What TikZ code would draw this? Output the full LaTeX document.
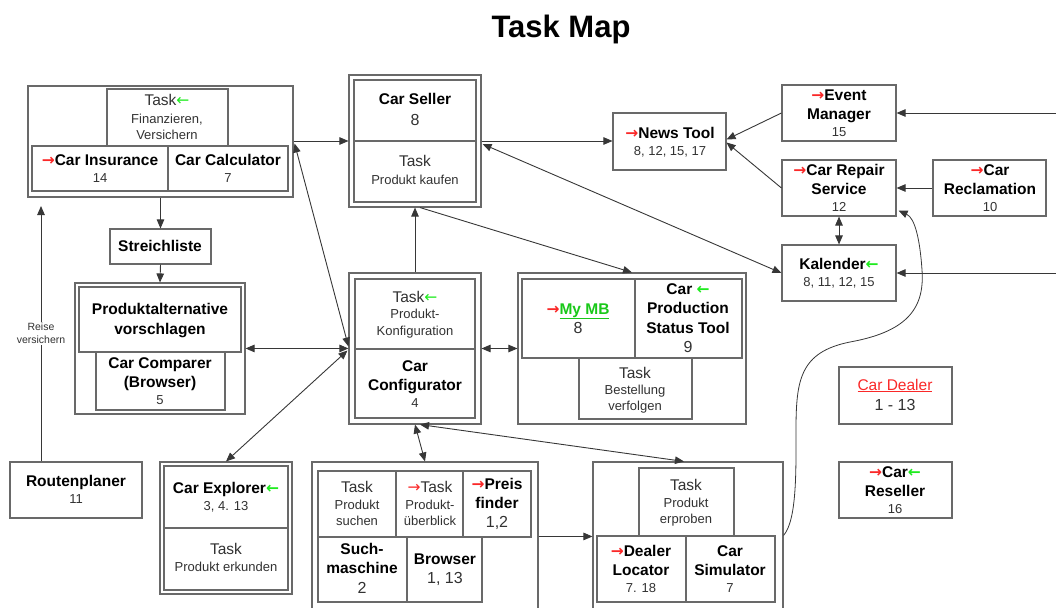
\documentclass[tikz,border=0pt]{standalone}
\usepackage{fontspec}
\setmainfont{Liberation Sans}
\newfontfamily\arrfont{DejaVu Sans}
\usetikzlibrary{arrows.meta,fit,calc}
\definecolor{mygreen}{RGB}{30,235,30}
\definecolor{myred}{RGB}{250,40,40}
\definecolor{boxgray}{RGB}{105,105,105}
\definecolor{txtgray}{RGB}{50,50,50}
\definecolor{lngray}{RGB}{55,55,55}
\newcommand\RedArr{{\arrfont\color{myred}→}}
\newcommand\GrnArr{{\arrfont\color{mygreen}←}}
\tikzset{
 bx/.style={draw=boxgray, line width=1.1pt, inner sep=0pt, fill=white},
 tb/.style={font=\fontsize{15.5}{18}\selectfont\bfseries, text=black, inner sep=0pt, anchor=base, yshift=-5pt},
 tk/.style={font=\fontsize{15.5}{18}\selectfont, text=txtgray, inner sep=0pt, anchor=base, yshift=-5pt},
 ts/.style={font=\fontsize{13}{15}\selectfont, text=txtgray, inner sep=0pt, anchor=base, yshift=-4.3pt},
 tn/.style={font=\fontsize{13}{15}\selectfont, text=txtgray, inner sep=0pt, anchor=base, yshift=-4.3pt},
 tbig/.style={font=\fontsize{16}{18}\selectfont, text=txtgray, inner sep=0pt, anchor=base, yshift=-5.3pt},
 arr/.style={draw=lngray, line width=0.9pt, -{Triangle[length=9pt,width=7.5pt]}},
 darr/.style={draw=lngray, line width=0.9pt, {Triangle[length=9pt,width=7.5pt]}-{Triangle[length=9pt,width=7.5pt]}},
}
\begin{document}
\begin{tikzpicture}[x=1pt,y=-1pt]
\useasboundingbox (0,0) rectangle (1056,607);
\clip (0,0) rectangle (1056,607);
\node[font=\fontsize{31}{36}\selectfont\bfseries, anchor=base, inner sep=0pt] (title) at (561,38) {Task Map};

% Insurance group
\node[bx, fit={(28,86)(293,197)}] (ins) {};
\node[bx, fit={(107,89)(228,146)}] (insT) {};
\node[bx, fit={(32,146)(168,191)}] (insA) {};
\node[bx, fit={(168,146)(288,191)}] (insC) {};
\node[tk] (insTt) at (167,101) {Task\GrnArr};
\node[ts] (insT1) at (167,119) {Finanzieren,};
\node[ts] (insT2) at (167,135) {Versichern};
\node[tb] (insAt) at (100,160) {\RedArr Car Insurance};
\node[tn] (insAn) at (100,178) {14};
\node[tb] (insCt) at (228,160) {Car Calculator};
\node[tn] (insCn) at (228,178) {7};

% Streichliste
\node[bx, fit={(110,229)(211,264)}] (streich) {};
\node[tb] (streicht) at (160,246) {Streichliste};

% Produktalternative
\node[bx, fit={(75,283)(245,414)}] (pa) {};
\node[bx, fit={(79,287)(241,352)}] (paA) {};
\node[bx, fit={(96,352)(225,410)}] (paC) {};
\node[tb] (paA1) at (160,309) {Produktalternative};
\node[tb] (paA2) at (160,329) {vorschlagen};
\node[tb] (paC1) at (160,363) {Car Comparer};
\node[tb] (paC2) at (160,382) {(Browser)};
\node[tn] (paC3) at (160,400) {5};

% Routenplaner
\node[bx, fit={(10,462)(142,518)}] (route) {};
\node[tb] (route1) at (76,481) {Routenplaner};
\node[tn] (route2) at (76,499) {11};

% Car Explorer
\node[bx, fit={(160,462)(292,594)}] (exO) {};
\node[bx, fit={(164,466)(288,528)}] (exA) {};
\node[bx, fit={(164,528)(288,590)}] (exB) {};
\node[tb] (exA1) at (226,488) {Car Explorer\GrnArr};
\node[tn] (exA2) at (226,506) {3, 4. 13};
\node[tk] (exB1) at (226,549) {Task};
\node[ts] (exB2) at (226,567) {Produkt erkunden};

% Car Seller
\node[bx, fit={(349,75)(481,207)}] (seO) {};
\node[bx, fit={(354,80)(476,141)}] (seA) {};
\node[bx, fit={(354,141)(476,202)}] (seB) {};
\node[tb] (seA1) at (415,100) {Car Seller};
\node[tbig] (seA2) at (415,120) {8};
\node[tk] (seB1) at (415,161) {Task};
\node[ts] (seB2) at (415,180) {Produkt kaufen};

% Car Configurator
\node[bx, fit={(349,273)(481,424)}] (cfO) {};
\node[bx, fit={(355,279)(475,349)}] (cfA) {};
\node[bx, fit={(355,349)(475,418)}] (cfB) {};
\node[tk] (cfA1) at (415,297) {Task\GrnArr};
\node[ts] (cfA2) at (415,314) {Produkt-};
\node[ts] (cfA3) at (415,331) {Konfiguration};
\node[tb] (cfB1) at (415,366) {Car};
\node[tb] (cfB2) at (415,385) {Configurator};
\node[tn] (cfB3) at (415,403) {4};

% My MB group
\node[bx, fit={(518,273)(746,424)}] (mbO) {};
\node[bx, fit={(522,279)(635,358)}] (mbA) {};
\node[bx, fit={(635,279)(742,358)}] (mbB) {};
\node[bx, fit={(579,358)(692,419)}] (mbT) {};
\node[tb] (mbA1) at (578,309) {\RedArr{\color{mygreen!85!black}\underline{My MB}}};
\node[tbig] (mbA2) at (578,328) {8};
\node[tb] (mbB1) at (688,289) {Car \GrnArr};
\node[tb] (mbB2) at (688,308) {Production};
\node[tb] (mbB3) at (688,328) {Status Tool};
\node[tbig] (mbB4) at (688,347) {9};
\node[tk] (mbT1) at (635,373) {Task};
\node[ts] (mbT2) at (635,390) {Bestellung};
\node[ts] (mbT3) at (635,406) {verfolgen};

% News Tool
\node[bx, fit={(613,113)(726,170)}] (news) {};
\node[tb] (news1) at (670,133) {\RedArr News Tool};
\node[tn] (news2) at (670,151) {8, 12, 15, 17};

% Event Manager
\node[bx, fit={(782,85)(896,141)}] (event) {};
\node[tb] (event1) at (839,95) {\RedArr Event};
\node[tb] (event2) at (839,114) {Manager};
\node[tn] (event3) at (839,132) {15};

% Car Repair Service
\node[bx, fit={(782,160)(896,216)}] (repair) {};
\node[tb] (repair1) at (839,170) {\RedArr Car Repair};
\node[tb] (repair2) at (839,189) {Service};
\node[tn] (repair3) at (839,207) {12};

% Car Reclamation
\node[bx, fit={(933,160)(1046,216)}] (reclam) {};
\node[tb] (reclam1) at (990,170) {\RedArr Car};
\node[tb] (reclam2) at (990,189) {Reclamation};
\node[tn] (reclam3) at (990,207) {10};

% Kalender
\node[bx, fit={(782,245)(896,301)}] (kal) {};
\node[tb] (kal1) at (839,264) {Kalender\GrnArr};
\node[tn] (kal2) at (839,282) {8, 11, 12, 15};

% Car Dealer
\node[bx, fit={(839,367)(952,424)}] (dealer) {};
\node[tk, text=myred] (dealer1) at (895,385) {\underline{Car Dealer}};
\node[tbig] (dealer2) at (895,405) {1 - 13};

% Car Reseller
\node[bx, fit={(839,462)(952,518)}] (reseller) {};
\node[tb] (reseller1) at (895,472) {\RedArr Car\GrnArr};
\node[tb] (reseller2) at (895,491) {Reseller};
\node[tn] (reseller3) at (895,509) {16};

% Search group
\node[bx, fit={(312,462)(538,620)}] (smO) {};
\node[bx, fit={(318,471)(396,537)}] (sm1) {};
\node[bx, fit={(396,471)(463,537)}] (sm2) {};
\node[bx, fit={(463,471)(531,537)}] (sm3) {};
\node[bx, fit={(318,537)(407,602)}] (sm4) {};
\node[bx, fit={(407,537)(482,602)}] (sm5) {};
\node[tk] (sm1a) at (357,487) {Task};
\node[ts] (sm1b) at (357,505) {Produkt};
\node[ts] (sm1c) at (357,521) {suchen};
\node[tk] (sm2a) at (430,487) {\RedArr Task};
\node[ts] (sm2b) at (430,505) {Produkt-};
\node[ts] (sm2c) at (430,521) {überblick};
\node[tb] (sm3a) at (497,484) {\RedArr Preis};
\node[tb] (sm3b) at (497,503) {finder};
\node[tbig] (sm3c) at (497,522) {1,2};
\node[tb] (sm4a) at (362,549) {Such-};
\node[tb] (sm4b) at (362,568) {maschine};
\node[tbig] (sm4c) at (362,588) {2};
\node[tb] (sm5a) at (445,559) {Browser};
\node[tbig] (sm5b) at (445,578) {1, 13};

% Try group
\node[bx, fit={(593,462)(783,620)}] (trO) {};
\node[bx, fit={(639,468)(734,536)}] (trT) {};
\node[bx, fit={(597,536)(686,602)}] (trA) {};
\node[bx, fit={(686,536)(775,602)}] (trB) {};
\node[tk] (trT1) at (686,485) {Task};
\node[ts] (trT2) at (686,503) {Produkt};
\node[ts] (trT3) at (686,519) {erproben};
\node[tb] (trA1) at (641,551) {\RedArr Dealer};
\node[tb] (trA2) at (641,570) {Locator};
\node[tn] (trA3) at (641,588) {7. 18};
\node[tb] (trB1) at (730,551) {Car};
\node[tb] (trB2) at (730,570) {Simulator};
\node[tn] (trB3) at (730,588) {7};

% Connectors
\draw[arr] (ins.south) -- (streich.north);
\draw[arr] (streich.south) -- (pa.north);
\coordinate (rvTop) at (41,206);
\draw[arr] (route.north -| rvTop) -- (rvTop)
  node[midway, fill=white, inner sep=1pt, align=center, font=\fontsize{10.5}{13}\selectfont, text=txtgray] (rvlbl) {Reise\\versichern};
\draw[darr] (pa.east |- cfB.north) -- (cfO.west |- cfB.north);
\draw[darr] ($(ins.east)+(1,2)$) -- ($(cfO.west)+(0,-2)$);
\draw[arr] (ins.east |- seO.west) -- (seO.west);
\draw[arr] (cfO.north) -- (seO.south);
\draw[arr] ($(seO.south)+(5,0)$) -- (mbO.north);
\draw[arr] (seO.east) -- (news.west |- seO.east);
\draw[darr] ($(seO.east)+(1,3)$) -- (kal.west);
\draw[arr] (event.west) -- ($(news.east)+(0,-2)$);
\draw[arr] (repair.west) -- ($(news.east)+(0,1)$);
\draw[arr] (reclam.west) -- (repair.east);
\draw[darr] (repair.south) -- (kal.north);
\coordinate (rm1) at (1056,113);
\draw[arr] (rm1) -- (event.east);
\coordinate (rm2) at (1056,273);
\draw[arr] (rm2) -- (kal.east);
\draw[darr] (cfO.east) -- (mbO.west);
\draw[darr] ($(cfO.west)+(-1,2)$) -- (exO.north);
\draw[darr] (cfO.south) -- (smO.north);
\draw[darr] ($(cfO.south)+(5,0)$) -- ($(trO.north)+(-4,0)$);
\draw[arr] (smO.east |- sm4.north) -- (trO.west |- sm4.north);
\draw[arr, line width=0.8pt] (trO.east |- trA.north) .. controls (797,520) and (796,470) .. (796,430)
  .. controls (796,380) and (800,352) .. (850,342)
  .. controls (905,332) and (925,310) .. (922,270)
  .. controls (920,240) and (915,218) .. ($(repair.south east)+(2,-6)$);
\end{tikzpicture}
\end{document}
